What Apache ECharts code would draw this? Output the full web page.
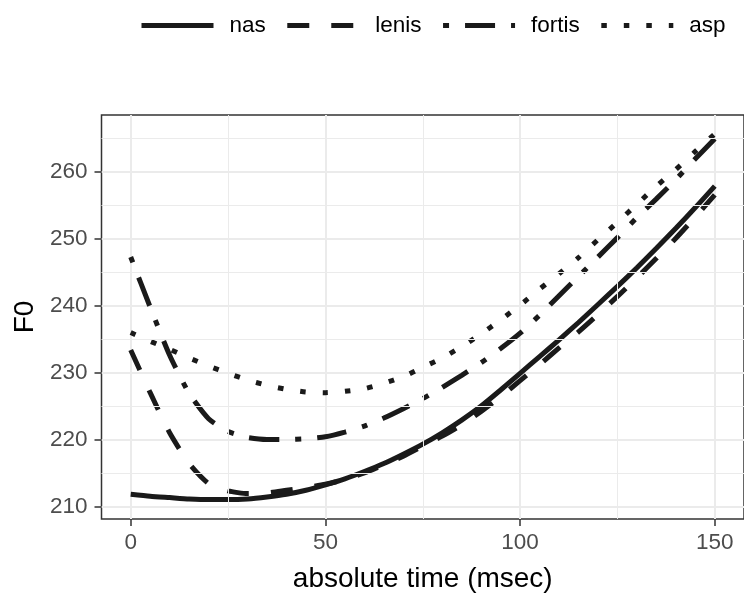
<!DOCTYPE html>
<html>
<head>
<meta charset="utf-8">
<script src="https://cdn.jsdelivr.net/npm/echarts@6/dist/echarts.min.js"></script>
<style>
  html, body { margin: 0; padding: 0; background: #fff; }
  #chart { width: 744px; height: 598px; }
</style>
</head>
<body>
<div id="chart"></div>
<script>
  // time points (msec)
  var times = [0, 5, 10, 15, 20, 25, 30, 35, 40, 45, 50, 55, 60, 65, 70, 75,
               80, 85, 90, 95, 100, 105, 110, 115, 120, 125, 130, 135, 140, 145, 150];

  // F0 values
  var nas = [211.8, 211.5, 211.3, 211.1, 211.0, 211.0, 211.1, 211.4, 211.8, 212.4, 213.2,
             214.1, 215.2, 216.4, 217.8, 219.3, 221.0, 222.9, 225.0, 227.4, 229.9,
             232.4, 234.9, 237.5, 240.2, 242.9, 245.7, 248.6, 251.6, 254.7, 257.9];
  var lenis = [233.4, 227.0, 221.0, 216.4, 213.4, 212.3, 211.9, 212.0, 212.4, 212.8, 213.3,
               214.0, 215.0, 216.2, 217.5, 219.0, 220.5, 222.2, 224.2, 226.4, 228.8,
               231.2, 233.7, 236.1, 238.7, 241.4, 244.2, 247.1, 250.1, 253.3, 256.6];
  var fortis = [247.3, 239.8, 232.6, 226.9, 223.1, 221.2, 220.3, 220.0, 220.0, 220.1, 220.4,
                221.1, 222.0, 223.2, 224.6, 226.1, 227.8, 229.6, 231.5, 233.6, 235.9,
                238.6, 241.5, 244.4, 247.3, 250.2, 253.2, 256.0, 258.9, 262.0, 265.0];
  var asp = [236.0, 234.7, 233.5, 232.2, 231.0, 229.9, 228.9, 228.1, 227.5, 227.1, 227.0,
             227.2, 227.6, 228.4, 229.4, 230.8, 232.2, 233.9, 235.8, 237.9, 240.1,
             242.5, 244.8, 247.2, 249.9, 252.5, 255.2, 257.9, 260.4, 263.1, 265.7];

  var xTicks = [0, 50, 100, 150];
  var xMinor = [25, 75, 125];
  var yTicks = [210, 220, 230, 240, 250, 260];
  var yMinor = [215, 225, 235, 245, 255, 265];

  var names = ['nas', 'lenis', 'fortis', 'asp'];
  var values = [nas, lenis, fortis, asp];
  var dashes = ['solid', [22, 22], [6, 16, 30, 16], [5.5, 17]];

  function pairs(ys) {
    return times.map(function (t, i) { return [t, ys[i]]; });
  }

  var chart = echarts.init(document.getElementById('chart'));

  var series = [{
    // minor grid lines
    type: 'line',
    data: [],
    silent: true,
    z: 0,
    markLine: {
      silent: true,
      symbol: 'none',
      label: { show: false },
      animation: false,
      lineStyle: { color: '#ebebeb', width: 1, type: 'solid' },
      data: yMinor.map(function (v) { return { yAxis: v }; })
        .concat(xMinor.map(function (v) { return { xAxis: v }; }))
    }
  }];

  names.forEach(function (n, i) {
    series.push({
      name: n,
      type: 'line',
      data: pairs(values[i]),
      showSymbol: false,
      symbol: 'none',
      smooth: 0.2,
      z: 3,
      lineStyle: { color: '#1a1a1a', width: 5, type: dashes[i], cap: 'butt' },
      itemStyle: { color: '#1a1a1a' }
    });
  });

  var option = {
    animation: false,
    textStyle: { fontFamily: 'Liberation Sans' },
    legend: {
      data: names,
      left: 134,
      top: 9,
      itemWidth: 72,
      itemHeight: 14,
      itemGap: 19,
      itemStyle: { opacity: 0, borderWidth: 0 },
      lineStyle: { width: 5 },
      textStyle: { fontSize: 22.5, color: '#000', padding: [0, 0, 0, 11] }
    },
    grid: {
      left: 101.5, top: 115, right: -6, bottom: 70,
      show: true, borderColor: '#333333', borderWidth: 1.5,
      containLabel: false
    },
    xAxis: {
      type: 'value',
      min: -7.5, max: 157.5,
      name: 'absolute time (msec)',
      nameLocation: 'middle',
      nameGap: 46,
      nameTextStyle: { fontSize: 28, color: '#000', verticalAlign: 'top' },
      axisLine: { show: false, onZero: false },
      axisTick: { show: true, length: 7, lineStyle: { color: '#333333', width: 1.5 }, customValues: xTicks },
      axisLabel: { fontSize: 22.5, color: '#4d4d4d', margin: 12.5, customValues: xTicks },
      splitLine: { show: true, lineStyle: { color: '#ebebeb', width: 2 } }
    },
    yAxis: {
      type: 'value',
      min: 208.1, max: 268.55,
      name: 'F0',
      nameLocation: 'middle',
      nameRotate: 90,
      nameGap: 58,
      nameTextStyle: { fontSize: 28, color: '#000' },
      axisLine: { show: false, onZero: false },
      axisTick: { show: true, length: 7, lineStyle: { color: '#333333', width: 1.5 }, customValues: yTicks },
      axisLabel: { fontSize: 22.5, color: '#4d4d4d', margin: 14, customValues: yTicks },
      splitLine: { show: true, lineStyle: { color: '#ebebeb', width: 2 } }
    },
    series: series
  };

  chart.setOption(option);
</script>
</body>
</html>
